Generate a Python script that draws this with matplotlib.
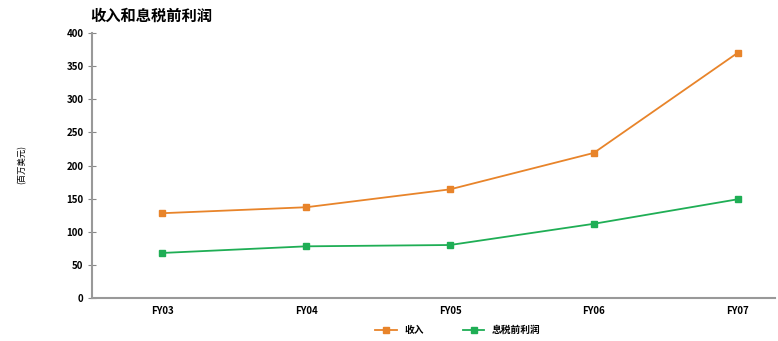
import matplotlib
matplotlib.use("Agg")
import matplotlib.pyplot as plt

plt.rcParams['font.family'] = ['Noto Sans CJK SC', 'DejaVu Sans']

categories = ["FY03", "FY04", "FY05", "FY06", "FY07"]
revenue = [128, 137, 164, 219, 370]
ebit = [68, 78, 80, 112, 149]
yticks = [0, 50, 100, 150, 200, 250, 300, 350, 400]
series_names = ["收入", "息税前利润"]
title = "收入和息税前利润"
ylabel = "(百万美元)"

fig = plt.figure(figsize=(7.78, 3.41), dpi=100)
ax = fig.add_axes([92/778, 43/341, 683/778, 265/341])

x = list(range(len(categories)))
ax.plot(x, revenue, color="#E8842A", marker="s", markersize=5, linewidth=1.3, label=series_names[0])
ax.plot(x, ebit, color="#1FAE55", marker="s", markersize=5, linewidth=1.3, label=series_names[1])

ax.set_xlim(-0.49, 4.26)
ax.set_ylim(0, 400)
ax.set_yticks(yticks)
ax.set_yticklabels([str(v) for v in yticks], fontsize=7, fontweight="bold")
ax.set_xticks(x)
ax.set_xticklabels(categories, fontsize=7, fontweight="bold")
ax.tick_params(axis="x", length=0, pad=6)
ax.tick_params(axis="y", direction="inout", length=6, width=0.8, color="#888888", pad=3)

for s in ["top", "right"]:
    ax.spines[s].set_visible(False)
for s in ["left", "bottom"]:
    ax.spines[s].set_color("#999999")
    ax.spines[s].set_linewidth(1.5)

fig.text(90/778, 1 - 16/341, title, fontsize=11, fontweight="bold", va="center", ha="left")
fig.text(22/778, 1 - 165/341, ylabel, fontsize=6, rotation=90, va="center", ha="center")

fig.legend(loc="center", bbox_to_anchor=(458/778, 1 - 330/341), ncol=2, frameon=False,
           handlelength=2.2, columnspacing=4, markerscale=0.9,
           prop={'weight': 'bold', 'size': 7})

fig.savefig("out.png", dpi=100)
